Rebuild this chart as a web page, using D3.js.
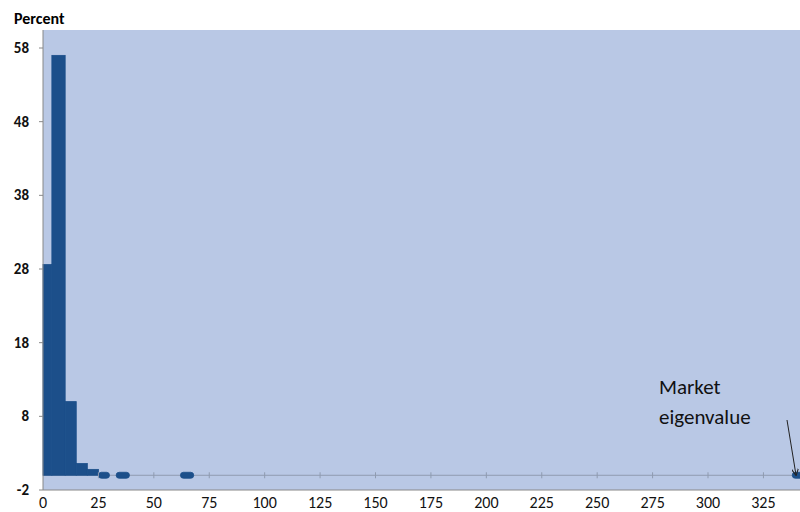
<!DOCTYPE html>
<html><head><meta charset="utf-8">
<script src="https://cdn.jsdelivr.net/npm/d3@7"></script>
<style>body{margin:0;background:#fff}text{font-family:Calibri,"Liberation Sans",Arial,sans-serif}</style>
</head><body><svg id="c" width="800" height="512"></svg>
<script>
// histogram bins (eigenvalue ranges) and percent
var binStart = [0, 4, 10, 15, 20, 25, 33, 62, 338];
var binEnd   = [4, 10, 15, 20, 25, 30, 39, 68, 343];
var percent  = [28.6, 57, 10, 1.6, 0.8, 0.3, 0.3, 0.3, 0.3];
var yTicks = [-2, 8, 18, 28, 38, 48, 58];
var xTicks = [0, 25, 50, 75, 100, 125, 150, 175, 200, 225, 250, 275, 300, 325];

var svg = d3.select("#c");
var pl = 43, pr = 800, pt = 30, pb = 490;
var x = d3.scaleLinear().domain([0, 341.5]).range([pl, pr]);
var y = d3.scaleLinear().domain([-2, 58]).range([pb, 48]);

svg.append("rect").attr("x", pl).attr("y", pt).attr("width", pr - pl).attr("height", pb - pt).attr("fill", "#b9c8e5");

// baseline
svg.append("line").attr("x1", pl).attr("x2", pr).attr("y1", y(0)).attr("y2", y(0)).attr("stroke", "#8f9bb0");

svg.selectAll(".bar").data(percent).enter().append("rect")
  .attr("x", (d, i) => x(binStart[i]))
  .attr("width", (d, i) => x(binEnd[i]) - x(binStart[i]))
  .attr("y", d => d < 0.5 ? y(0) - 3 : y(d))
  .attr("height", d => d < 0.5 ? 6 : y(0) - y(d))
  .attr("rx", d => d < 0.5 ? 3 : 0)
  .attr("fill", "#1c4f8a").attr("stroke", "#1c4f8a").attr("stroke-width", 0.8);

// axes
svg.append("line").attr("x1", pl).attr("x2", pl).attr("y1", pt).attr("y2", pb).attr("stroke", "#888");
svg.append("line").attr("x1", pl).attr("x2", pr).attr("y1", pb).attr("y2", pb).attr("stroke", "#888");

svg.selectAll(".yt").data(yTicks).enter().append("text")
  .attr("x", 29).attr("y", d => y(d) + 5).attr("text-anchor", "end")
  .attr("font-size", 15).attr("font-weight", "bold").attr("fill", "#111").text(d => d);
svg.selectAll(".ytk").data(yTicks).enter().append("line")
  .attr("x1", pl - 4).attr("x2", pl).attr("y1", d => y(d)).attr("y2", d => y(d)).attr("stroke", "#888");

svg.selectAll(".xtk").data(xTicks.slice(1)).enter().append("line")
  .attr("x1", d => x(d)).attr("x2", d => x(d)).attr("y1", y(0) - 3).attr("y2", y(0) + 3).attr("stroke", "#8f9bb0");
svg.selectAll(".xt").data(xTicks).enter().append("text")
  .attr("x", d => x(d)).attr("y", 508).attr("text-anchor", "middle")
  .attr("font-size", 16).attr("fill", "#111").text(d => d);

svg.append("text").attr("x", 14).attr("y", 24).attr("font-size", 16).attr("font-weight", "bold").text("Percent");

svg.append("text").attr("x", 659).attr("y", 394).attr("font-size", 21).attr("fill", "#111").text("Market");
svg.append("text").attr("x", 659).attr("y", 424).attr("font-size", 21).attr("fill", "#111").text("eigenvalue");
svg.append("defs").append("marker").attr("id", "ah").attr("viewBox", "0 0 10 10").attr("refX", 9).attr("refY", 5)
  .attr("markerWidth", 7).attr("markerHeight", 7).attr("orient", "auto")
  .append("path").attr("d", "M0,0L10,5L0,10").attr("fill", "none").attr("stroke", "#222").attr("stroke-width", 1.5);
svg.append("line").attr("x1", 787).attr("y1", 420).attr("x2", 796).attr("y2", 475)
  .attr("stroke", "#222").attr("marker-end", "url(#ah)");
</script></body></html>
